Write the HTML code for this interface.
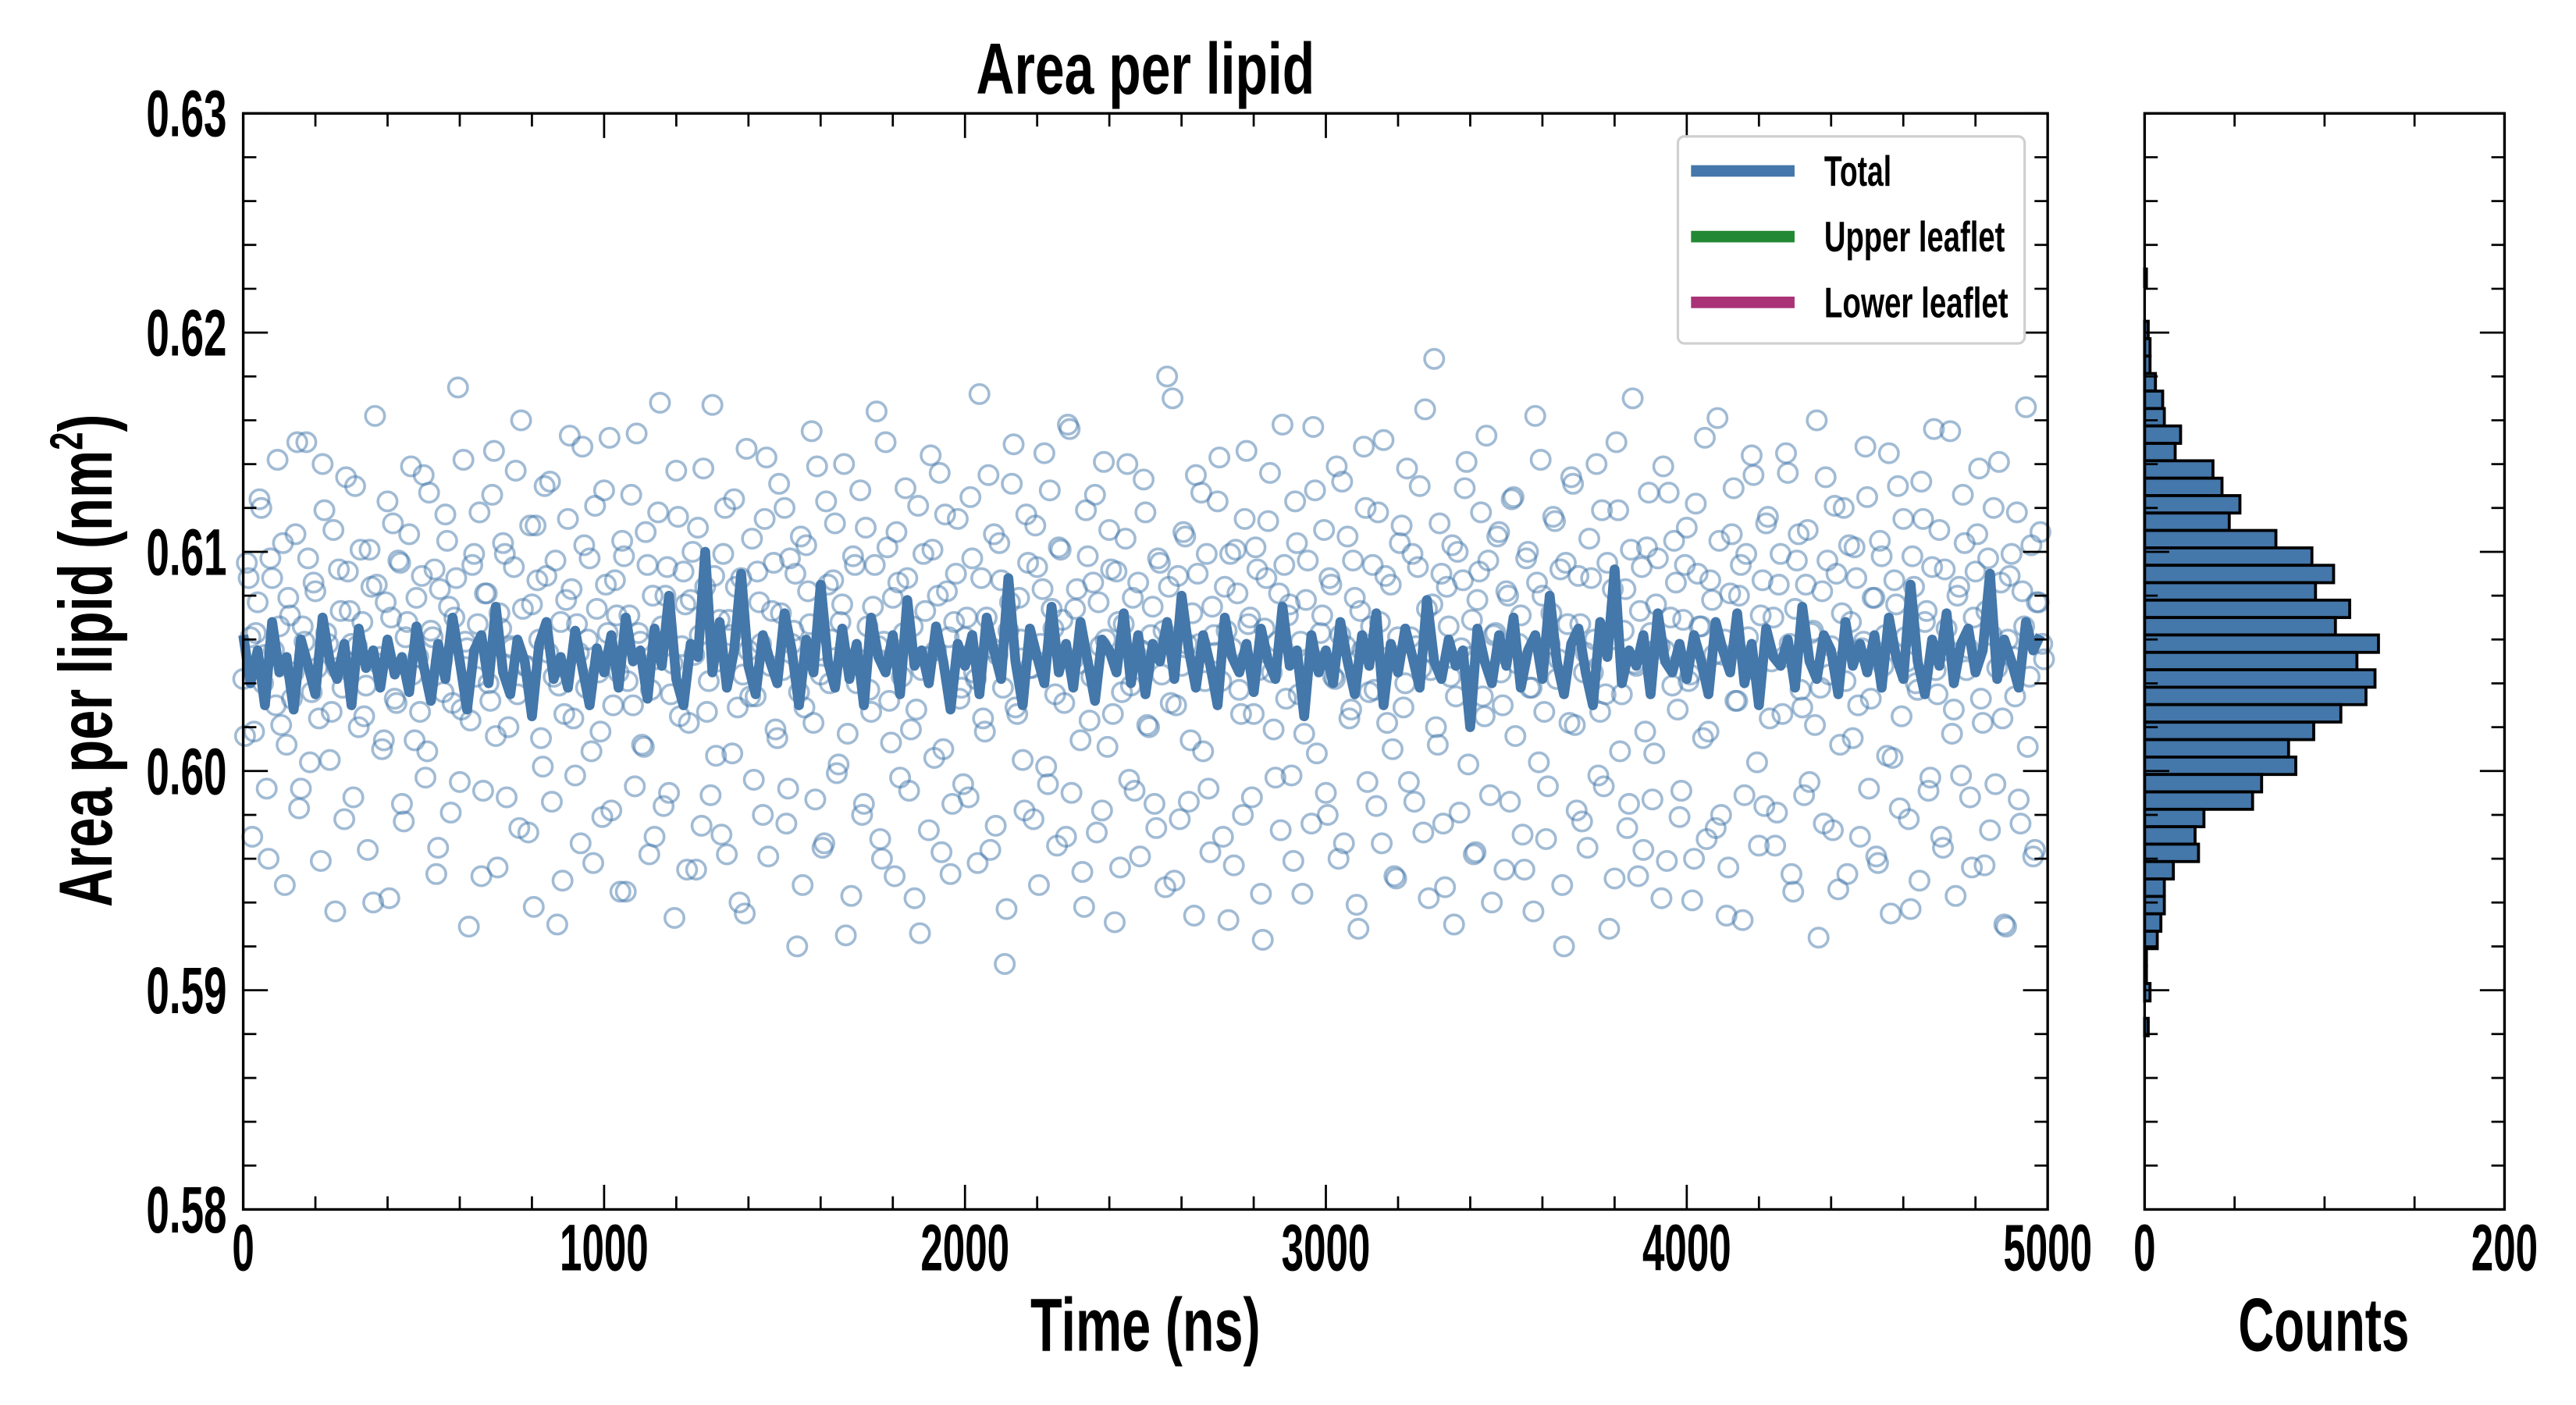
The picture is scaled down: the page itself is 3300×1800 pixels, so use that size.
<!DOCTYPE html>
<html><head><meta charset="utf-8"><style>
html,body{margin:0;padding:0;background:#fff}
svg{display:block}
text{font-family:"Liberation Sans Narrow","Liberation Sans",sans-serif;font-weight:bold;fill:#000}
</style></head><body>
<svg id="chart" width="3300" height="1800" viewBox="0 0 1567.5 855" xmlns="http://www.w3.org/2000/svg">
<g id="main"></g>
<g id="hist"></g>
<text x="697" y="57" text-anchor="middle" font-size="44" textLength="206" lengthAdjust="spacingAndGlyphs">Area per lipid</text>
<text x="697" y="822" text-anchor="middle" font-size="46" textLength="140" lengthAdjust="spacingAndGlyphs">Time (ns)</text>
<text x="1414" y="822" text-anchor="middle" font-size="46" textLength="104" lengthAdjust="spacingAndGlyphs">Counts</text>
<text transform="translate(68,402) rotate(-90)" text-anchor="middle" font-size="46" textLength="300" lengthAdjust="spacingAndGlyphs">Area per lipid (nm<tspan font-size="28" dy="-18">2</tspan><tspan dy="18">)</tspan></text>
<g>
<rect x="1021" y="83" width="211" height="126" rx="4" fill="#fff" fill-opacity="0.85" stroke="#d0d0d0" stroke-width="1.5"/>
<line x1="1029" y1="104" x2="1092" y2="104" stroke="#4477aa" stroke-width="7"/>
<text x="1110" y="113" font-size="26" textLength="41" lengthAdjust="spacingAndGlyphs">Total</text>
<line x1="1029" y1="144" x2="1092" y2="144" stroke="#228833" stroke-width="7"/>
<text x="1110" y="153" font-size="26" textLength="110" lengthAdjust="spacingAndGlyphs">Upper leaflet</text>
<line x1="1029" y1="184" x2="1092" y2="184" stroke="#aa3377" stroke-width="7"/>
<text x="1110" y="193" font-size="26" textLength="112" lengthAdjust="spacingAndGlyphs">Lower leaflet</text>
</g>
</svg>
<script>
// scatter values (frames at t = 0,10,20,...): offsets from 0.600 in units of 1e-4
const scatterValsA = [
42,95,61,18,77,120,53,-40,88,30,66,104,12,71,45,150,-8,59,97,36,82,24,140,63,5,
110,47,73,-22,91,58,130,20,68,39,101,-60,85,52,14,123,70,33,96,-15,61,108,44,79,27,
135,9,64,92,-35,50,117,75,31,88,-5,142,56,23,99,67,-48,81,40,126,16,72,104,-12,57,
93,35,160,48,-28,76,112,60,2,89,132,43,-70,68,26,115,83,-2,54,148,38,97,-42,74,18,
128,63,-18,87,45,105,-55,71,30,154,59,11,94,37,-30,118,66,80,-10,49,137,25,91,-45,78,
53,111,-25,84,41,167,7,69,99,-38,62,124,29,88,-65,55,106,34,77,-20,143,48,95,15,72,
120,-8,58,90,36,-52,103,67,22,139,44,-33,85,60,113,3,76,-75,51,98,40,128,-15,66,27,
94,57,-40,150,32,79,109,-3,63,88,19,-58,121,46,73,-27,101,55,136,10,82,-47,68,115,38,
61,-12,97,42,172,24,70,-36,108,53,87,-88,64,131,29,79,5,117,47,-22,93,58,145,-6,74,
35,102,69,-30,156,51,83,14,-62,98,43,126,77,-18,60,110,26,91,-44,67,140,39,-9,86,55,
118,20,75,-26,95,64,180,31,-50,89,48,107,-14,72,135,58,9,99,-37,62,123,41,84,-68,56,
101,37,-20,146,70,26,92,-56,65,114,45,-3,81,158,33,76,-41,104,59,17,96,-24,128,50,71,
-10,88,43,139,62,-33,107,28,79,-72,55,120,36,94,-16,68,151,22,85,-48,61,112,40,-5,99,
57,130,-28,74,46,188,12,90,-53,66,103,34,-19,87,141,52,-38,78,118,25,96,-60,63,109,30,
82,-14,125,49,71,-45,100,38,162,4,80,-31,58,116,42,92,-80,67,134,21,89,-23,54,106,45,
140,27,-7,95,60,-49,119,35,83,-15,170,48,73,-36,102,63,8,97,-58,55,127,39,86,-21,69,
111,44,-40,90,66,152,18,78,-26,105,53,-66,81,129,32,94,-11,61,144,46,-34,87,113,24,70,
-19,99,52,136,-47,74,108,29,85,-5,64,160,38,-24,96,57,121,-54,72,41,103,15,88,-30,59,
125,33,79,-42,98,62,145,6,76,-17,115,50,-63,84,37,132,68,-9,93,46,110,-35,65,155,28,
80,-2,104,56,-44,91,138,22,73,-27,120,47,86,-70,60,99,34,-13,82,166,43,-39,77,109,51];
// scatter values (frames at t = 5,15,25,...)
const scatterValsB = [
16,88,-30,63,124,40,-8,97,55,142,21,-52,79,33,108,-17,66,150,4,86,47,-41,119,58,27,
-64,92,38,134,73,-12,57,101,25,-36,84,162,49,10,77,-58,113,31,95,-23,68,139,14,52,89,
-3,127,61,-47,83,36,105,-19,70,175,28,59,-71,94,43,118,-9,81,32,146,-44,65,99,20,56,
137,-26,74,48,112,-62,87,15,130,54,-14,96,39,-50,78,153,24,67,-33,103,60,9,121,45,
-21,85,152,30,71,-55,98,41,126,-7,63,12,109,-38,80,51,168,-16,93,35,-67,116,57,76,22,
100,-45,62,138,27,-11,89,50,-29,120,69,8,84,-60,44,147,34,-4,91,58,115,-39,73,19,131,
46,-24,97,64,-80,107,29,82,155,-13,55,-35,123,40,87,-1,68,140,17,-57,94,51,-20,111,37,
75,164,-31,59,102,13,-48,86,43,129,-9,66,28,-74,99,52,144,6,80,-37,117,61,-15,90,33,
-6,70,125,45,-42,88,18,135,56,-25,104,38,-63,77,149,26,60,-18,95,47,112,-52,83,2,128,
65,-34,101,31,158,-10,74,49,-46,119,23,86,-28,57,141,11,92,-69,68,36,106,-4,79,53,-39,
133,21,62,-15,97,44,-53,84,170,30,-22,109,58,14,-66,90,127,41,-8,75,54,143,-30,64,99,
-43,81,26,115,67,-12,102,46,-77,88,136,19,59,-27,94,71,-2,123,35,-56,78,50,157,8,63,
110,-20,85,42,-40,132,57,24,96,-61,73,148,-5,66,37,118,-33,89,52,10,-49,104,29,138,61,
-14,93,47,165,-58,76,20,113,-24,84,43,-70,100,56,129,3,69,-37,91,34,153,-11,62,107,45,
-45,80,124,16,58,-29,97,38,-64,86,142,27,-7,72,114,51,-52,95,22,131,-18,67,45,-35,88,
60,-2,119,35,-72,83,150,9,64,-26,101,49,-48,93,18,127,-13,76,57,139,-41,70,105,28,-9,
94,41,-59,122,66,15,-31,87,53,161,-20,60,-44,108,32,80,-68,99,47,135,4,71,-16,116,50,
-34,85,26,145,58,-55,96,37,-11,110,63,21,-76,82,134,44,-27,90,12,120,-47,68,102,30,56,
148,-8,79,-39,105,48,7,-65,87,130,25,61,-22,98,40,-50,115,73,-3,156,35,-30,92,55,17,
-57,84,126,46,-12,70,108,33,-43,97,62,-6,141,24,-71,89,52,118,-24,66,11,103,-36,77,58];
// running average (Total): offsets from 0.600 in 1e-4, one every 20 ns
const totalVals = [
62,40,55,30,68,45,52,28,60,48,35,70,50,42,58,30,65,47,55,38,60,44,52,36,66,
48,32,58,42,70,50,28,55,62,40,75,45,35,60,50,25,58,68,42,52,38,64,47,30,56,
45,62,38,70,50,55,33,65,48,80,42,30,58,52,100,45,68,38,55,90,48,35,62,50,40,
72,55,30,60,45,85,50,38,65,42,58,30,70,52,45,62,35,78,48,55,40,66,50,28,58,
48,62,35,70,55,42,88,50,30,65,52,40,75,45,58,38,68,50,32,60,55,45,72,40,62,
35,58,50,68,42,80,55,38,62,48,30,70,52,45,58,36,65,50,42,75,48,55,25,62,45,
55,40,68,50,35,62,48,72,30,58,45,65,52,38,78,50,42,60,48,55,20,65,50,40,62,
48,70,38,55,62,42,80,50,35,58,65,45,30,68,52,92,40,55,48,62,35,72,50,45,58,
42,62,50,35,68,55,45,72,40,58,30,65,52,48,60,38,75,50,42,62,55,35,68,48,58,
45,62,38,70,52,42,85,50,35,60,48,72,40,58,65,45,55,90,42,60,50,38,68,55,62];
// histogram counts, top bin to bottom bin
const histCounts = [1,0,0,2,3,3,6,10,11,20,17,38,43,53,47,73,93,105,95,114,106,130,118,128,123,109,94,80,84,65,60,33,28,30,16,11,11,9,7,1,1,3,0,2];
const histBinTop = 0.6229, histBinWidth = 0.000795;
const xTicks = [0,1000,2000,3000,4000,5000];
const yTicks = [0.58,0.59,0.60,0.61,0.62,0.63];
const yTickLabels = ["0.58","0.59","0.60","0.61","0.62","0.63"];
const countTicks = [0,200];

const NS='http://www.w3.org/2000/svg';
const L=148,R=1246,T=69,B=736,HL=1305,HR=1524;
const xs=t=>L+(t-0)/(5000-0)*(R-L);
const ys=v=>B-(v-0.58)/(0.63-0.58)*(B-T);
const hx=c=>HL+c/200*(HR-HL);
function mk(tag,attrs,parent){const e=document.createElementNS(NS,tag);for(const k in attrs)e.setAttribute(k,attrs[k]);parent.appendChild(e);return e;}
const main=document.getElementById('main'), hist=document.getElementById('hist');

const sg=mk('g',{},main);


function scatter(arr,offset){
  arr.forEach((v,i)=>{
    const c=mk('circle',{cx:xs(i*10+offset).toFixed(1),cy:ys(0.6+v/10000).toFixed(1),r:5.8,fill:'none',stroke:'#4477aa','stroke-opacity':0.5,'stroke-width':1.7},sg);
    
    
  });
}
scatter(scatterValsA,0);
scatter(scatterValsB,5);
const pts=totalVals.map((v,i)=>xs(i*20).toFixed(1)+','+ys(0.6+v/10000).toFixed(1)).join(' ');
const pl=mk('polyline',{points:pts,fill:'none',stroke:'#4477aa','stroke-width':6,'stroke-linejoin':'round'},main);



histCounts.forEach((c,i)=>{
  if(c<=0)return;
  const top=histBinTop-i*histBinWidth, bot=top-histBinWidth;
  const r=mk('rect',{x:HL,y:ys(top).toFixed(1),width:(hx(c)-HL).toFixed(1),height:(ys(bot)-ys(top)).toFixed(1),fill:'#4477aa',stroke:'#000','stroke-width':1.8},hist);
  
  
});

function frame(g,x0,x1,name){
  const r=mk('rect',{x:x0,y:T,width:x1-x0,height:B-T,fill:'none',stroke:'#000','stroke-width':1.6},g);
  
  
  for(let k=0;k<=25;k++){
    const v=0.58+k*0.002, y=ys(v), len=(k%5===0)?15:8;
    mk('line',{x1:x0,y1:y,x2:x0+len,y2:y,stroke:'#000','stroke-width':1.3},g);
    mk('line',{x1:x1,y1:y,x2:x1-len,y2:y,stroke:'#000','stroke-width':1.3},g);
  }
}
frame(main,L,R,'main-plot-frame');
frame(hist,HL,HR,'hist-plot-frame');
for(let t=0;t<=5000;t+=200){
  const x=xs(t), len=(t%1000===0)?15:8;
  mk('line',{x1:x,y1:B,x2:x,y2:B-len,stroke:'#000','stroke-width':1.3},main);
  mk('line',{x1:x,y1:T,x2:x,y2:T+len,stroke:'#000','stroke-width':1.3},main);
}
for(let c=0;c<=200;c+=50){
  const x=hx(c);
  mk('line',{x1:x,y1:B,x2:x,y2:B-8,stroke:'#000','stroke-width':1.3},hist);
  mk('line',{x1:x,y1:T,x2:x,y2:T+8,stroke:'#000','stroke-width':1.3},hist);
}
yTicks.forEach((v,i)=>{
  const t=mk('text',{x:138,y:(ys(v)+14).toFixed(1),'text-anchor':'end','font-size':40,textLength:49,lengthAdjust:'spacingAndGlyphs'},main);
  t.textContent=yTickLabels[i];
  
  
});
xTicks.forEach(v=>{
  const s=String(v);
  const t=mk('text',{x:xs(v),y:773,'text-anchor':'middle','font-size':40,textLength:s.length*13.5,lengthAdjust:'spacingAndGlyphs'},main);
  t.textContent=s;
  
  
});
countTicks.forEach(v=>{
  const s=String(v);
  const t=mk('text',{x:hx(v),y:773,'text-anchor':'middle','font-size':40,textLength:s.length*13.5,lengthAdjust:'spacingAndGlyphs'},hist);
  t.textContent=s;
  
  
});
</script>
</body></html>
